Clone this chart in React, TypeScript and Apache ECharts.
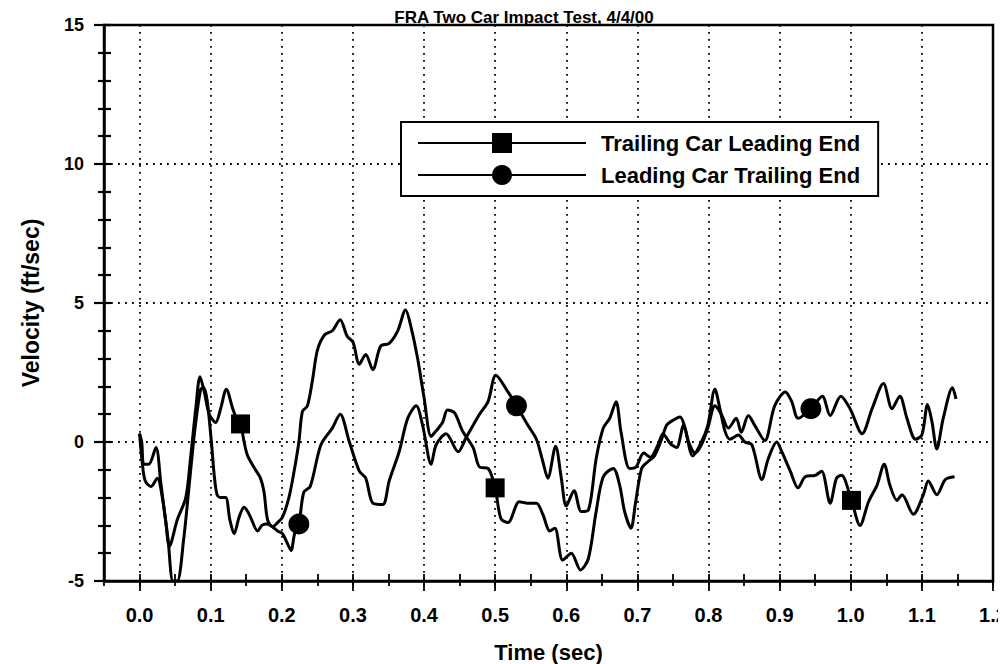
import React, { useEffect, useRef } from 'react';
import * as echarts from 'echarts';

const TITLE = 'FRA Two Car Impact Test, 4/4/00';
const X_NAME = 'Time (sec)';
const Y_NAME = 'Velocity (ft/sec)';
const SERIES_A = 'Trailing Car Leading End';
const SERIES_B = 'Leading Car Trailing End';

const xMajorTicks = [0, 0.1, 0.2, 0.3, 0.4, 0.5, 0.6, 0.7, 0.8, 0.9, 1.0, 1.1, 1.2];

// Trailing Car Leading End (square markers)
const trailingX = [
  0.0, 0.003, 0.006, 0.013, 0.023, 0.030, 0.037, 0.042, 0.053, 0.065, 0.072, 0.079, 0.085, 0.091, 0.098,
  0.107, 0.114, 0.122, 0.131, 0.137, 0.142, 0.147, 0.152, 0.163, 0.170, 0.175, 0.180, 0.187, 0.194, 0.201,
  0.210, 0.217, 0.224, 0.229, 0.236, 0.243, 0.250, 0.260, 0.271, 0.282, 0.292, 0.300, 0.309, 0.318, 0.328,
  0.339, 0.351, 0.363, 0.374, 0.382, 0.391, 0.400, 0.410, 0.417, 0.426, 0.433, 0.443, 0.454, 0.469, 0.478,
  0.490, 0.500, 0.508, 0.518, 0.534, 0.546, 0.558, 0.567, 0.577, 0.584, 0.595, 0.607, 0.620, 0.631, 0.642,
  0.652, 0.666, 0.675, 0.682, 0.691, 0.697, 0.706, 0.715, 0.724, 0.734, 0.741, 0.748, 0.760, 0.767, 0.778,
  0.790, 0.799, 0.809, 0.816, 0.823, 0.830, 0.842, 0.851, 0.861, 0.875, 0.884, 0.896, 0.903, 0.915, 0.926,
  0.936, 0.950, 0.959, 0.971, 0.980, 0.987, 1.001, 1.013, 1.025, 1.037, 1.047, 1.055, 1.065, 1.072, 1.088,
  1.102, 1.109, 1.121, 1.133, 1.146,
];
const trailingY = [
  0.3, 0.0, -0.8, -0.8, -0.2, -1.5, -2.9, -3.75, -2.8, -2.0, -0.5, 1.2, 2.35, 1.8, 1.0,
  0.7, 1.2, 1.9, 1.2, 0.8, 0.65, 0.0, -0.5, -1.0, -1.3, -1.8, -2.8, -3.05, -2.9, -2.7,
  -2.0, -1.1, 0.0, 1.1, 1.3, 2.2, 3.3, 3.85, 4.0, 4.4, 3.8, 3.6, 2.8, 3.15, 2.6,
  3.45, 3.55, 4.0, 4.75, 4.1, 3.0, 1.6, 0.2, 0.4, 0.7, 1.15, 1.05, 0.4, -0.2, -0.9,
  -0.95, -1.65, -2.75, -2.9, -2.15, -2.2, -2.2, -2.6, -3.2, -3.1, -4.25, -4.0, -4.6, -4.2, -2.5,
  -1.25, -0.95, -1.55, -2.5, -3.1, -2.25, -0.95, -0.7, -0.5, 0.1, 0.6, 0.75, 0.9, 0.5, -0.5,
  0.0, 0.6, 1.9, 1.2, 0.4, 0.1, 0.25, 0.0, -0.1, -1.35, -0.6, 0.0, -0.35, -1.05, -1.65,
  -1.25, -1.2, -1.05, -2.2, -1.3, -1.2, -2.1, -3.0, -2.15, -1.55, -0.8, -1.55, -2.1, -1.9, -2.6,
  -1.9, -1.4, -1.9, -1.35, -1.25,
];
const trailingMarkerX = [0.142, 0.5, 1.001];

// Leading Car Trailing End (circle markers)
const leadingX = [
  0.0, 0.004, 0.008, 0.016, 0.025, 0.032, 0.040, 0.047, 0.053, 0.062, 0.070, 0.078, 0.086, 0.090, 0.095,
  0.101, 0.105, 0.109, 0.114, 0.121, 0.127, 0.133, 0.140, 0.147, 0.152, 0.156, 0.166, 0.172, 0.178, 0.184,
  0.194, 0.201, 0.207, 0.213, 0.218, 0.224, 0.231, 0.240, 0.255, 0.271, 0.282, 0.295, 0.309, 0.318, 0.328,
  0.342, 0.351, 0.365, 0.377, 0.389, 0.398, 0.410, 0.417, 0.431, 0.448, 0.459, 0.478, 0.490, 0.501, 0.518,
  0.530, 0.546, 0.558, 0.567, 0.574, 0.585, 0.593, 0.600, 0.611, 0.621, 0.631, 0.642, 0.652, 0.661, 0.670,
  0.677, 0.689, 0.698, 0.709, 0.718, 0.729, 0.736, 0.746, 0.755, 0.765, 0.772, 0.781, 0.790, 0.799, 0.809,
  0.818, 0.828, 0.839, 0.846, 0.856, 0.865, 0.879, 0.893, 0.908, 0.917, 0.926, 0.944, 0.960, 0.971, 0.986,
  0.999, 1.016, 1.030, 1.046, 1.058, 1.069, 1.079, 1.091, 1.100, 1.108, 1.114, 1.121, 1.130, 1.143, 1.148,
];
const leadingY = [
  0.3, -0.8, -1.4, -1.6, -1.3, -2.0, -3.5, -5.0, -5.0, -3.5, -1.5, 0.5, 1.9, 1.95, 1.5,
  0.0, -1.2, -1.9, -2.0, -2.0, -2.8, -3.3, -2.7, -2.35, -2.5, -2.7, -3.2, -3.0, -2.95, -3.0,
  -3.2, -3.3, -3.6, -3.9, -3.3, -2.95, -1.8, -1.6, -0.1, 0.5, 1.0, 0.0, -1.05, -1.3, -2.2,
  -2.25, -1.4, -0.35, 0.85, 1.3, 0.6, -0.8, -0.1, 0.3, -0.35, 0.15, 1.0, 1.45, 2.4, 1.8,
  1.3, 0.6, 0.1, -0.7, -1.3, -0.15, -1.3, -2.3, -1.75, -2.5, -2.45, -0.6, 0.5, 0.85, 1.45,
  0.35, -0.95, -0.9, -0.4, -0.55, -0.1, 0.3, -0.05, -0.2, 0.6, 0.0, -0.4, -0.1, 0.5, 1.3,
  1.0, 0.5, 0.85, 0.35, 0.95, 0.6, 0.05, 1.3, 1.8, 1.45, 0.85, 1.2, 1.65, 0.95, 1.65,
  1.2, 0.3, 1.2, 2.1, 1.2, 1.65, 0.85, 0.1, 0.25, 1.35, 0.75, -0.25, 0.85, 1.95, 1.55,
];
const leadingMarkerX = [0.224, 0.53, 0.944];

const FONT = '"Liberation Sans", Arial, Helvetica, sans-serif';

function buildData(xs: number[], ys: number[], markers: number[]) {
  return xs.map((x, i) => ({
    value: [x, ys[i]],
    symbol: markers.includes(x) ? undefined : 'none',
  }));
}

export default function App() {
  const ref = useRef<HTMLDivElement>(null);

  useEffect(() => {
    if (!ref.current) return;
    const chart = echarts.init(ref.current, undefined, { renderer: 'svg' });
    const black = '#000';
    const dotted = { color: black, width: 1.8, type: [1.8, 5.2] as number[] };
    const tickLine = { color: black, width: 1.8 };

    const seriesBase = {
      type: 'line' as const,
      xAxisIndex: 0,
      yAxisIndex: 0,
      showSymbol: true,
      showAllSymbol: true,
      smooth: 0.3,
      color: black,
      lineStyle: { color: black, width: 3 },
      itemStyle: { color: black, borderWidth: 0 },
      emphasis: { disabled: true },
      z: 3,
    };

    const minorXAxis = (inside: boolean, length: number) => ({
      type: 'value' as const,
      min: -0.05,
      max: 1.2,
      interval: 0.05,
      position: 'bottom' as const,
      axisLine: { show: false, onZero: false },
      axisTick: { show: true, inside, length, lineStyle: tickLine },
      axisLabel: { show: false },
      splitLine: { show: false },
    });

    chart.setOption({
      animation: false,
      backgroundColor: '#fff',
      tooltip: { show: false },
      grid: {
        left: 96,
        right: 21,
        top: 17,
        bottom: 91,
        show: true,
        borderColor: black,
        borderWidth: 2.5,
        backgroundColor: 'transparent',
        containLabel: false,
        outerBoundsMode: 'none',
      },
      graphic: [
        {
          type: 'text',
          x: 516,
          y: 9.5,
          style: {
            text: TITLE,
            fontSize: 17,
            fontWeight: 'bold',
            fontFamily: FONT,
            fill: black,
            align: 'center',
            verticalAlign: 'middle',
          },
        },
      ],
      legend: {
        orient: 'vertical',
        left: 393,
        top: 114,
        data: [SERIES_A, SERIES_B],
        itemWidth: 168,
        itemHeight: 25,
        itemGap: 10,
        padding: [10, 18, 10, 16],
        backgroundColor: '#fff',
        borderColor: black,
        borderWidth: 2,
        selectedMode: false,
        textStyle: {
          fontSize: 22,
          fontWeight: 'bold',
          fontFamily: FONT,
          color: black,
          padding: [0, 0, 0, 10],
        },
        z: 10,
      },
      xAxis: [
        {
          type: 'value',
          min: -0.05,
          max: 1.2,
          interval: 0.05,
          position: 'bottom',
          axisLine: { show: true, onZero: false, lineStyle: { color: black, width: 2.5 } },
          axisTick: { show: true, customValues: xMajorTicks, length: 10, lineStyle: tickLine },
          axisLabel: {
            customValues: xMajorTicks,
            formatter: (v: number) => v.toFixed(1),
            margin: 24,
            fontSize: 20,
            fontWeight: 'bold',
            fontFamily: FONT,
            color: black,
          },
          splitLine: { show: true, lineStyle: dotted },
          name: X_NAME,
          nameLocation: 'middle',
          nameGap: 60,
          nameTextStyle: { fontSize: 22, fontWeight: 'bold', fontFamily: FONT, color: black },
        },
        minorXAxis(true, 7),
        minorXAxis(false, 5),
      ],
      yAxis: [
        {
          type: 'value',
          min: -5,
          max: 15,
          interval: 5,
          position: 'left',
          axisLine: { show: true, onZero: false, lineStyle: { color: black, width: 2.5 } },
          axisTick: { show: true, length: 10, lineStyle: { color: black, width: 2.2 } },
          minorTick: { show: true, splitNumber: 5, length: 6, lineStyle: { color: black, width: 2.2 } },
          axisLabel: { margin: 20, fontSize: 18, fontWeight: 'bold', fontFamily: FONT, color: black },
          splitLine: { show: true, lineStyle: dotted },
          name: Y_NAME,
          nameLocation: 'middle',
          nameGap: 62,
          nameRotate: 90,
          nameTextStyle: { fontSize: 23, fontWeight: 'bold', fontFamily: FONT, color: black },
        },
        {
          type: 'value',
          min: -5,
          max: 15,
          interval: 5,
          position: 'left',
          axisLine: { show: false, onZero: false },
          axisTick: { show: true, inside: true, length: 7, lineStyle: { color: black, width: 2.2 } },
          minorTick: { show: true, splitNumber: 5, length: 7, lineStyle: { color: black, width: 2.2 } },
          axisLabel: { show: false },
          splitLine: { show: false },
        },
      ],
      series: [
        {
          ...seriesBase,
          name: SERIES_A,
          symbol: 'rect',
          symbolSize: 19,
          data: buildData(trailingX, trailingY, trailingMarkerX),
        },
        {
          ...seriesBase,
          name: SERIES_B,
          symbol: 'circle',
          symbolSize: 21,
          data: buildData(leadingX, leadingY, leadingMarkerX),
        },
      ],
    });

    return () => chart.dispose();
  }, []);

  return (
    <div
      ref={ref}
      style={{ position: 'fixed', left: 0, top: 0, width: 1006, height: 664, background: '#fff' }}
    />
  );
}
